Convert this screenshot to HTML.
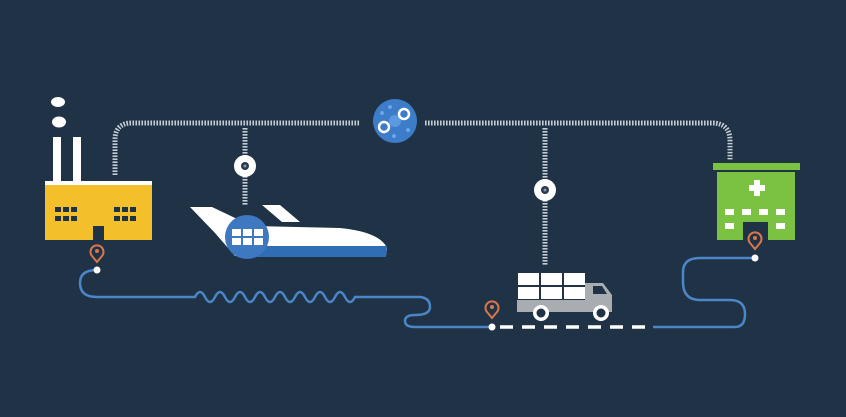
<!DOCTYPE html>
<html><head><style>html,body{margin:0;padding:0;background:#1f3246;}svg{display:block}</style></head>
<body>
<svg width="846" height="417" viewBox="0 0 846 417" xmlns="http://www.w3.org/2000/svg">
<rect width="846" height="417" fill="#1f3246"/>
<g fill="none" stroke="#c3cbd4" stroke-width="5" stroke-dasharray="1.6 1.4">
<path d="M115 175 V140 Q115 123 132 123 H360"/>
<path d="M425 123 H712 Q730 123 730 141 V160"/>
<path d="M245 128 V205"/>
<path d="M545 128 V265"/>
</g>
<circle cx="245" cy="166" r="11" fill="#fff"/><circle cx="245" cy="166" r="4" fill="#2a3a4c"/><circle cx="245" cy="166" r="1.5" fill="#8a96a3"/>
<circle cx="545" cy="190" r="11" fill="#fff"/><circle cx="545" cy="190" r="4" fill="#2a3a4c"/><circle cx="545" cy="190" r="1.5" fill="#8a96a3"/>
<circle cx="395" cy="121" r="22" fill="#3d7cc8"/>
<circle cx="395" cy="121" r="6" fill="#5b9ae0"/>
<circle cx="384" cy="127" r="5" fill="none" stroke="#fff" stroke-width="2.5"/>
<circle cx="404" cy="114" r="5" fill="none" stroke="#fff" stroke-width="2.5"/>
<circle cx="390" cy="107" r="2" fill="#6aa6ea"/><circle cx="408" cy="130" r="2" fill="#6aa6ea"/><circle cx="394" cy="136" r="2" fill="#6aa6ea"/><circle cx="382" cy="113" r="2" fill="#6aa6ea"/>
<g fill="none" stroke="#4a86c8" stroke-width="2.5">
<path d="M97 270 Q80 270 80 283 Q80 297 97 297 H195 q5 -10 10 0 q5 10 10 0 q5 -10 10 0 q5 10 10 0 q5 -10 10 0 q5 10 10 0 q5 -10 10 0 q5 10 10 0 q5 -10 10 0 q5 10 10 0 q5 -10 10 0 q5 10 10 0 q5 -10 10 0 q5 10 10 0 q5 -10 10 0 q5 10 10 0 H420 Q430 298 430 307 Q430 315 415 315 Q405 315 405 321 Q405 327 415 327 H492"/>
<path d="M653 327 H735 Q745 327 745 314 Q745 300 730 300 H700 Q683 300 683 282 V272 Q683 258 700 258 H755"/>
</g>
<g stroke="#fff" stroke-width="3.5"><path d="M500 327 H645" stroke-dasharray="13 9"/></g>
<circle cx="492" cy="327" r="3.5" fill="#fff"/><circle cx="755" cy="258" r="3.5" fill="#fff"/><circle cx="97" cy="270" r="3.5" fill="#fff"/>
<!-- factory -->
<ellipse cx="58" cy="102" rx="7" ry="5" fill="#fff"/><ellipse cx="59" cy="122" rx="7" ry="5.5" fill="#fff"/>
<rect x="53" y="137" width="8" height="46" fill="#fff"/><rect x="73" y="137" width="8" height="46" fill="#fff"/>
<rect x="45" y="181" width="107" height="4" fill="#fff"/>
<rect x="45" y="185" width="107" height="55" fill="#f3bf2a"/>
<rect x="93" y="226" width="11" height="14" fill="#1f3246"/>
<g fill="#1f3246">
<rect x="55" y="207" width="6" height="5"/><rect x="63" y="207" width="6" height="5"/><rect x="71" y="207" width="6" height="5"/>
<rect x="55" y="216" width="6" height="5"/><rect x="63" y="216" width="6" height="5"/><rect x="71" y="216" width="6" height="5"/>
<rect x="114" y="207" width="6" height="5"/><rect x="122" y="207" width="6" height="5"/><rect x="130" y="207" width="6" height="5"/>
<rect x="114" y="216" width="6" height="5"/><rect x="122" y="216" width="6" height="5"/><rect x="130" y="216" width="6" height="5"/>
</g>
<!-- plane -->
<path d="M190 207 H212 L252 226 L340 228 Q380 232 387 248 L386 256 H235 L215 233 Z" fill="#fff"/>
<path d="M262 205 H280 L300 222 H282 Z" fill="#fff"/>
<path d="M230 246 H387 L386 257 H238 Z" fill="#2f6eb5"/>
<circle cx="247" cy="237" r="22" fill="#3d78c0"/>
<g fill="#fff">
<rect x="232" y="229" width="9" height="7"/><rect x="243" y="229" width="9" height="7"/><rect x="254" y="229" width="9" height="7"/>
<rect x="232" y="238" width="9" height="7"/><rect x="243" y="238" width="9" height="7"/><rect x="254" y="238" width="9" height="7"/>
</g>
<!-- truck -->
<rect x="517" y="300" width="95" height="12" fill="#a9adb2"/>
<path d="M585 283 H603 L612 295 V312 H585 Z" fill="#a9adb2"/>
<path d="M593 286 H602 L607 294 H593 Z" fill="#1f3246"/>
<g fill="#fff">
<rect x="518" y="273" width="21" height="12"/><rect x="541" y="273" width="21" height="12"/><rect x="564" y="273" width="21" height="12"/>
<rect x="518" y="287" width="21" height="12"/><rect x="541" y="287" width="21" height="12"/><rect x="564" y="287" width="21" height="12"/>
</g>
<circle cx="541" cy="313" r="8" fill="#fff"/><circle cx="541" cy="313" r="4.5" fill="#1f3246"/>
<circle cx="601" cy="313" r="8" fill="#fff"/><circle cx="601" cy="313" r="4.5" fill="#1f3246"/>
<!-- hospital -->
<rect x="713" y="163" width="87" height="7" fill="#7bc142"/>
<rect x="717" y="172" width="78" height="68" fill="#7bc142"/>
<rect x="743" y="222" width="25" height="18" fill="#1f3246"/>
<g fill="#fff">
<rect x="754" y="180" width="6" height="16"/><rect x="749" y="185" width="16" height="6"/>
<rect x="725" y="209" width="9" height="6"/><rect x="742" y="209" width="9" height="6"/><rect x="759" y="209" width="9" height="6"/><rect x="776" y="209" width="9" height="6"/>
<rect x="725" y="223" width="9" height="6"/><rect x="776" y="223" width="9" height="6"/>
</g>
<!-- pins (on top) -->
<g fill="none" stroke="#d9774a" stroke-width="2">
<path d="M97 262 l-5 -6 a6.5 6.5 0 1 1 10 0 z"/>
<path d="M492 318 l-5 -6 a6.5 6.5 0 1 1 10 0 z"/>
<path d="M755 249 l-5 -6 a6.5 6.5 0 1 1 10 0 z"/>
</g>
<circle cx="97" cy="251" r="2" fill="#d9774a"/><circle cx="492" cy="307" r="2" fill="#d9774a"/><circle cx="755" cy="238" r="2" fill="#d9774a"/>
</svg>
</body></html>
